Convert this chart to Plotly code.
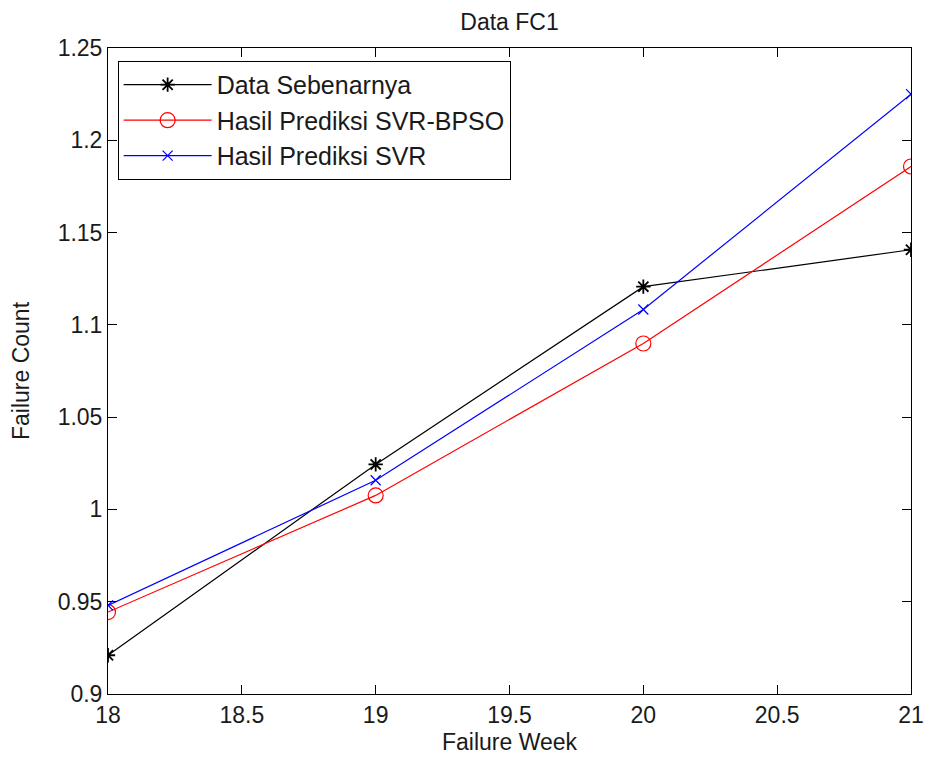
import plotly.graph_objects as go

weeks = [18, 19, 20, 21]
data_sebenarnya = [0.921, 1.0244, 1.1207, 1.1407]
pred_svr_bpso = [0.9444, 1.0076, 1.0899, 1.1858]
pred_svr = [0.948, 1.0158, 1.1083, 1.225]

x_ticks = [18, 18.5, 19, 19.5, 20, 20.5, 21]
x_labels = ["18", "18.5", "19", "19.5", "20", "20.5", "21"]
y_ticks = [0.9, 0.95, 1.0, 1.05, 1.1, 1.15, 1.2, 1.25]
y_labels = ["0.9", "0.95", "1", "1.05", "1.1", "1.15", "1.2", "1.25"]

FONT = "Liberation Sans, Arial"
TXT = "#1a1a1a"

fig = go.Figure()
fig.add_trace(go.Scatter(x=weeks, y=data_sebenarnya, mode="lines+markers", name="Data Sebenarnya",
                         line=dict(color="black", width=1.2),
                         marker=dict(symbol="asterisk-open", size=12, color="black", line=dict(width=1.8, color="black"))))
fig.add_trace(go.Scatter(x=weeks, y=pred_svr_bpso, mode="lines+markers", name="Hasil Prediksi SVR-BPSO",
                         line=dict(color="red", width=1.2),
                         marker=dict(symbol="circle-open", size=15, color="red", line=dict(width=1.2, color="red"))))
fig.add_trace(go.Scatter(x=weeks, y=pred_svr, mode="lines+markers", name="Hasil Prediksi SVR",
                         line=dict(color="blue", width=1.2),
                         marker=dict(symbol="x-thin-open", size=10, color="blue", line=dict(width=1.2, color="blue"))))

axis_common = dict(showgrid=False, zeroline=False, showline=True, linecolor="black", linewidth=1,
                   mirror="ticks", ticks="inside", ticklen=9, tickcolor="black",
                   tickfont=dict(family=FONT, size=23, color=TXT))

fig.update_layout(
    width=928, height=755,
    margin=dict(l=96, r=14, t=40, b=68),
    paper_bgcolor="white", plot_bgcolor="white",
    title=dict(text="Data FC1", x=0.5, xref="paper", xanchor="center", y=0.992, yanchor="top",
               font=dict(family=FONT, size=23, color=TXT)),
    xaxis=dict(range=[18, 21], tickvals=x_ticks, ticktext=x_labels,
               title=dict(text="Failure Week", font=dict(family=FONT, size=23, color=TXT), standoff=7),
               **axis_common),
    yaxis=dict(range=[0.9, 1.25], tickvals=y_ticks, ticktext=y_labels,
               title=dict(text="Failure Count", font=dict(family=FONT, size=23, color=TXT), standoff=22),
               **axis_common),
    legend=dict(x=0.012, y=0.98, xanchor="left", yanchor="top", bgcolor="white",
                bordercolor="black", borderwidth=1, itemwidth=88,
                font=dict(family=FONT, size=25, color=TXT)),
    showlegend=True,
)

fig.write_html("out.html")
